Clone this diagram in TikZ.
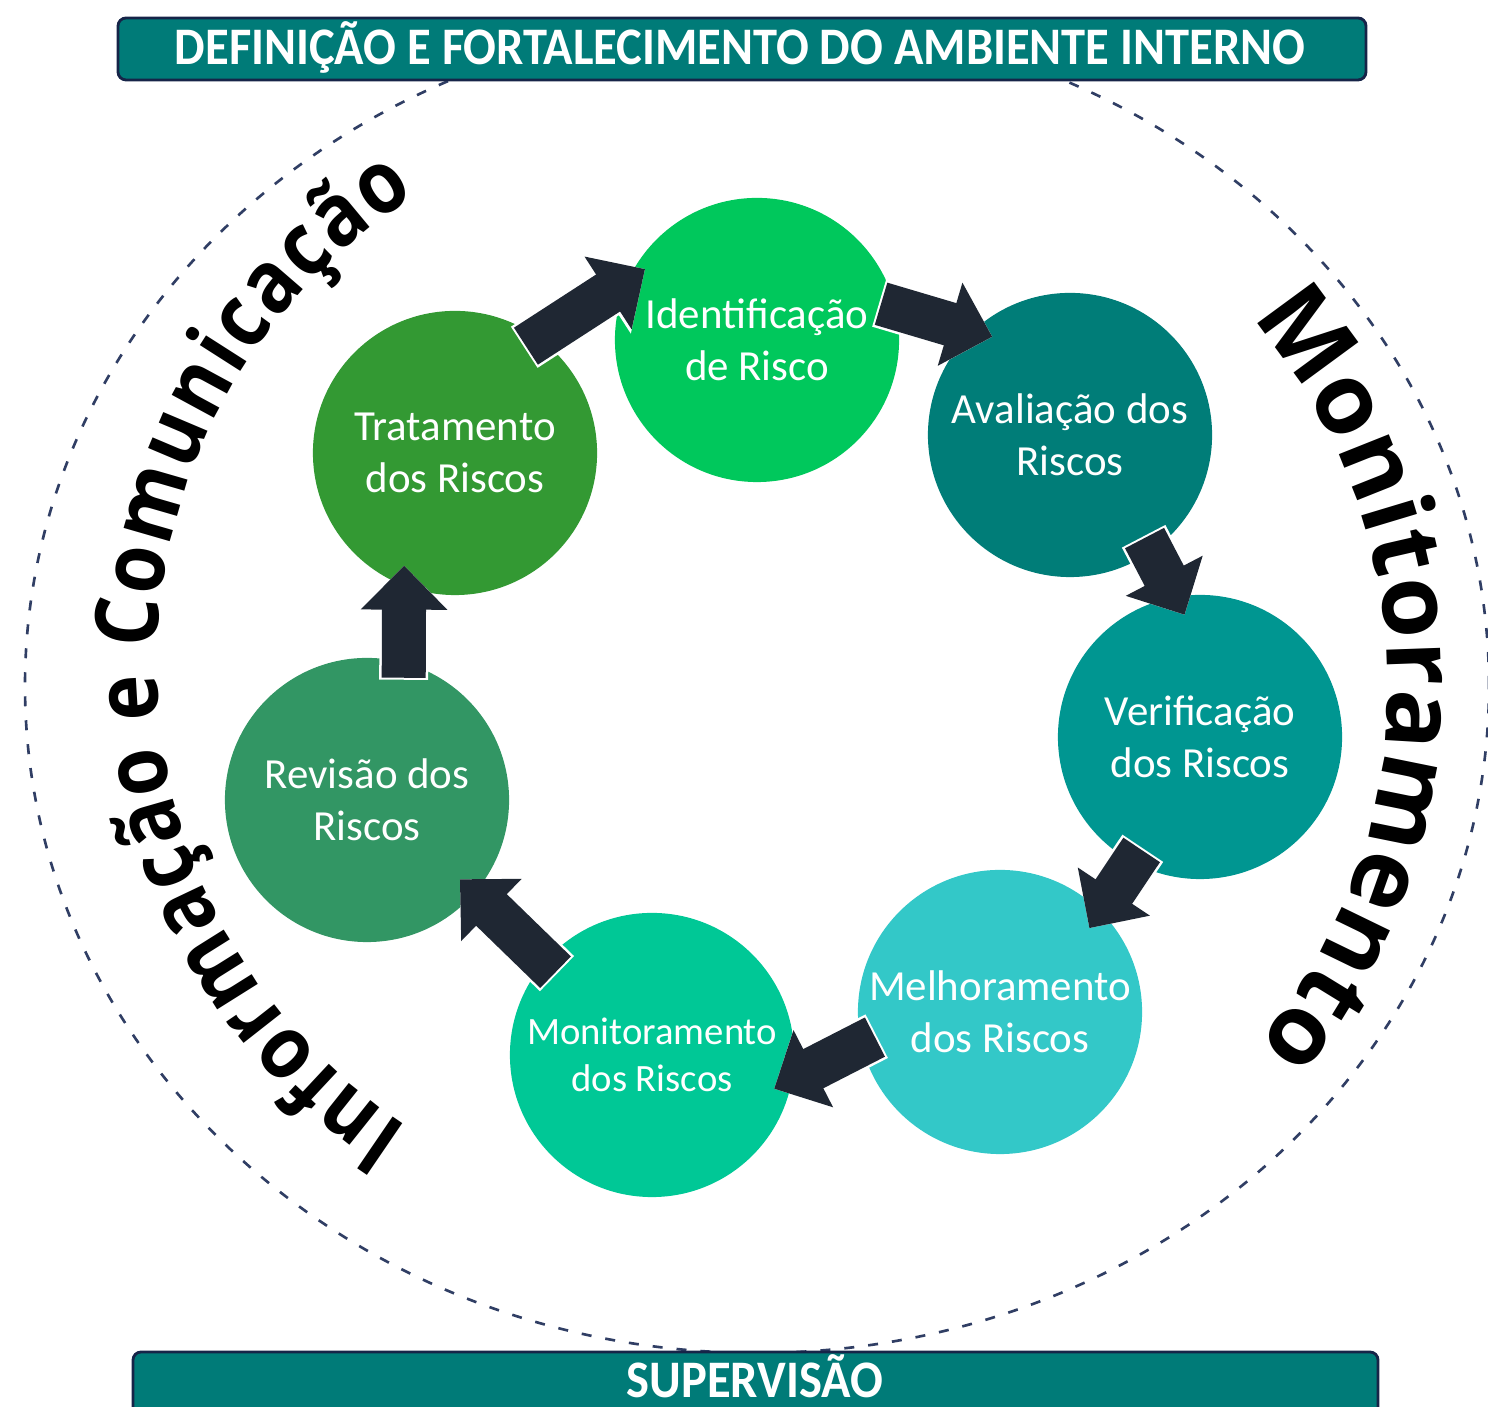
\documentclass[tikz,border=0pt]{standalone}
\usepackage{fontspec}
\setmainfont{Carlito}
\newfontfamily\arcofont{Open Sans}
\newfontfamily\arcoestreito[FakeStretch=0.88]{Open Sans}
\newfontfamily\faixafont[FakeStretch=0.92]{Carlito}
\usepackage{xcolor}
\usetikzlibrary{arrows.meta,decorations.text}

\definecolor{corFaixa}{RGB}{0,123,120}
\definecolor{corBorda}{RGB}{22,36,72}
\definecolor{corTraco}{RGB}{48,62,100}
\definecolor{corSeta}{RGB}{31,39,51}
\definecolor{corIdent}{RGB}{0,200,92}
\definecolor{corAval}{RGB}{0,125,120}
\definecolor{corVerif}{RGB}{0,150,145}
\definecolor{corMelh}{RGB}{51,200,200}
\definecolor{corMoni}{RGB}{0,200,150}
\definecolor{corRevi}{RGB}{50,150,100}
\definecolor{corTrat}{RGB}{51,153,51}

\begin{document}
\begin{tikzpicture}
    \tikzset{x={(0.01cm, 0cm)}, y={(0cm, 0.01cm)}}
    \tikzset{etapa/.style={circle, minimum size=2.84cm, inner sep=0pt, outer sep=0pt,
                 text=white, align=center, font=\fontsize{12.2}{14.8}\selectfont},
             fluxo/.style={draw=corSeta, line width=0.44cm,
                 shorten <=-0.15cm, shorten >=-0.2cm,
                 -{Triangle[length=0.44cm,width=0.84cm]},
                 preaction={draw=white, line width=0.49cm, shorten <=-0.17cm, shorten >=-0.2cm,
                     -{Triangle[length=0.47cm,width=0.9cm]}}},
             faixa/.style={draw=corBorda, line width=0.8pt, fill=corFaixa, rounded corners=0.08cm},
             faixatexto/.style={anchor=base, inner sep=0pt, text=white,
                 font=\faixafont\bfseries\fontsize{15}{18}\selectfont},
             arco/.style 2 args={decorate, decoration={text along path, text align={fit to path},
                 text={|#1|#2}}}}
    \useasboundingbox (0,0) rectangle (1488,1407);

    \draw[corTraco, line width=0.75pt, dash pattern=on 0.1cm off 0.14cm] (757,721) ellipse [x radius=732, y radius=667];

    \draw[faixa] (118,1327) rectangle (1366,1389);
    \node[faixatexto] (topo) at (740,1342) {DEFINIÇÃO E FORTALECIMENTO DO AMBIENTE INTERNO};
    \draw[faixa] (133,-20) rectangle (1378,55);
    \node[faixatexto] (base) at (755,9) {SUPERVISÃO};

    \node[etapa, fill=corIdent] (ident) at (757,1067) {Identificação\\de Risco};
    \node[etapa, fill=corAval] (aval) at (1070,972) {Avaliação dos\\Riscos};
    \node[etapa, fill=corVerif] (verif) at (1200,670) {Verificação\\dos Riscos};
    \node[etapa, fill=corMelh] (melh) at (1000,395) {Melhoramento\\dos Riscos};
    \node[etapa, fill=corMoni, font=\fontsize{11}{13.2}\selectfont] (moni) at (652,352) {Monitoramento\\dos Riscos};
    \node[etapa, fill=corRevi] (revi) at (367,607) {Revisão dos\\Riscos};
    \node[etapa, fill=corTrat] (trat) at (455,954) {Tratamento\\dos Riscos};

    \draw[fluxo] (trat.54) -- (ident.155);
    \draw[fluxo] (ident.13) -- (aval.133);
    \draw[fluxo] (aval.-55) -- (verif.100);
    \draw[fluxo] (verif.-118) -- (melh.45);
    \draw[fluxo] (melh.193) -- (moni.-10);
    \draw[fluxo] (moni.139) -- (revi.-41);
    \draw[fluxo] (revi.75) -- (trat.-111);

    \path[arco={\arcoestreito\bfseries\fontsize{25}{30}\selectfont}{Informação e Comunicação}]
        ([shift={(709,743)}]237:552) arc[start angle=237, end angle=122, radius=552];
    \path[arco={\arcofont\bfseries\fontsize{28}{33}\selectfont}{Monitoramento}]
        ([shift={(828,722)}]41:560) arc[start angle=41, end angle=-40, radius=560];
\end{tikzpicture}
\end{document}
